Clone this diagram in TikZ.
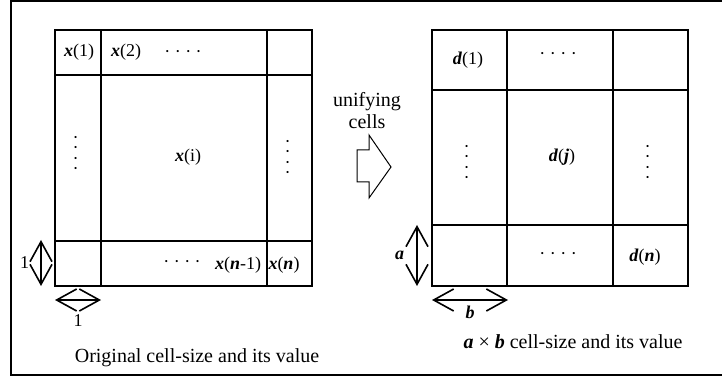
\documentclass[tikz,border=0pt]{standalone}
\usepackage{fontspec}
\setmainfont{Liberation Serif}
\usetikzlibrary{arrows.meta}
\newcommand{\bivar}[1]{\textbf{\textit{#1}}}
\tikzset{
  lbl/.style={inner sep=0pt, font=\fontsize{18}{20}\selectfont},
  vdots/.style={lbl, rotate=90},
  captxt/.style={inner sep=0pt, align=center, font=\fontsize{20}{22}\selectfont},
  dimarrow/.style={{Straight Barb[length=20pt,width=22pt]}-{Straight Barb[length=20pt,width=22pt]}, line width=1.6pt},
}
\begin{document}
\begin{tikzpicture}[x=1pt, y=-1pt, line width=1.6pt]
    \useasboundingbox (0,0) rectangle (722,379);
    \draw[line width=1.3pt] (11,1) rectangle (730,375);
    % original cells
    \draw (55,30) rectangle (312,286);
    \foreach \x in {101,267} \draw (\x,30)--(\x,286);
    \foreach \y in {75,241} \draw (55,\y)--(312,\y);
    \node[lbl] (x1) at (79,52) {\bivar{x}(1)};
    \node[lbl] (x2) at (126,52) {\bivar{x}(2)};
    \node[lbl] (xdots) at (183,54) {· · · ·};
    \node[lbl] (xi) at (188,157) {\bivar{x}(i)};
    \node[vdots] (xvl) at (78,153) {· · · ·};
    \node[vdots] (xvr) at (290,157) {· · · ·};
    \node[lbl] (xbdots) at (182,264) {· · · ·};
    \node[lbl] (xn1) at (238,265) {\bivar{x}(\bivar{n}-1)};
    \node[lbl] (xn) at (284,265) {\bivar{x}(\bivar{n})};
    \draw[dimarrow] (41,240)--(41,286) node[midway, left=11pt, lbl]{1};
    \draw[dimarrow] (55,300)--(101,300) node[midway, below=14pt, lbl]{1};
    \node[captxt] (capo) at (197,358) {Original cell-size and its value};
    % unifying
    \node[captxt] (uni) at (367,111) {unifying\\cells};
    \draw[line width=1pt] (357,150)--(369,150)--(369,135)--(391,167)--(369,198)--(369,182)--(357,182)--cycle;
    % unified cells
    \draw (432,30) rectangle (688,286);
    \foreach \x in {507,613} \draw (\x,30)--(\x,286);
    \foreach \y in {90,225} \draw (432,\y)--(688,\y);
    \node[lbl] (d1) at (468,60) {\bivar{d}(1)};
    \node[lbl] (ddots) at (558,56) {· · · ·};
    \node[vdots] (dvl) at (469,162) {· · · ·};
    \node[lbl] (dj) at (562,157) {\bivar{d}(\bivar{j})};
    \node[vdots] (dvr) at (650,162) {· · · ·};
    \node[lbl] (dbdots) at (558,256) {· · · ·};
    \node[lbl] (dn) at (645,257) {\bivar{d}(\bivar{n})};
    \draw[dimarrow] (417,225)--(417,286) node[midway, left=12pt, lbl]{\bivar{a}};
    \draw[dimarrow] (432,300)--(508,300) node[midway, below=5pt, lbl]{\bivar{b}};
    \node[captxt] (capu) at (573,342) {\bivar{a} × \bivar{b} cell-size and its value};
\end{tikzpicture}
\end{document}
